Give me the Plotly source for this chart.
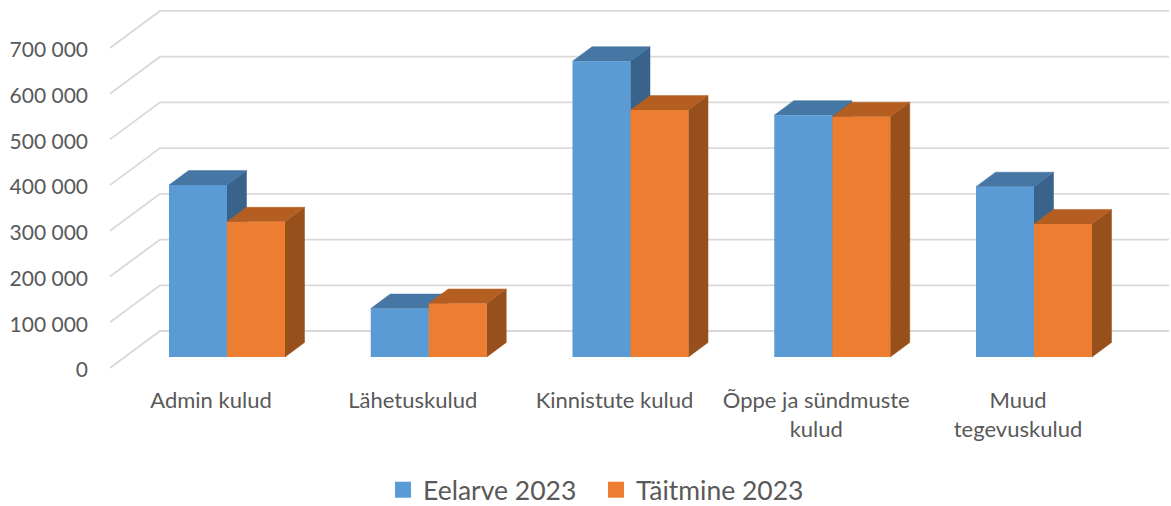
import plotly.graph_objects as go

categories = ["Admin kulud", "Lähetuskulud", "Kinnistute kulud", "Õppe ja sündmuste<br>kulud", "Muud<br>tegevuskulud"]
eelarve = [376000, 106000, 647000, 529000, 372500]
taitmine = [295700, 117000, 540000, 525600, 291000]
ticks = [0, 100000, 200000, 300000, 400000, 500000, 600000, 700000]
tick_labels = ["0", "100 000", "200 000", "300 000", "400 000", "500 000", "600 000", "700 000"]

W, H = 1171, 506
PX_X = 201.75           # pixels per category
PX_Y = 45.72 / 100000   # pixels per unit
X0, Y0 = 227.0, 357.0   # pixel of category 0 / value 0 on the bar front plane
L, B = 89.0, 385.0      # plot-area left / bottom pixel
FONT = "Lato"
TXT = "#595959"
GRID = "#D9D9D9"

def dx(px):
    return px / PX_X

def dy(px):
    return px / PX_Y

bar_w = dx(58)
depth_x, depth_y = dx(19.5), dy(14.5)
wall_x, wall_y = dx(160 - X0), dy(Y0 - 331)
floor_x, floor_y = dx(110 - X0), dy(Y0 - 368)
right_x = dx(1169 - X0)
label_shift_y = dy(Y0 - 370)
label_shift_x = dx(-16)

xr = [dx(L - X0), dx(W - X0)]
yr = [dy(Y0 - B), dy(Y0)]
dom_x = [L / W, 1]
dom_y = [(H - B) / H, 1]


def faces(values, off):
    sx, sy, tx, ty = [], [], [], []
    for i, v in enumerate(values):
        a = i + off
        b = a + bar_w
        sx += [b, b + depth_x, b + depth_x, b, b, None]
        sy += [0, depth_y, v + depth_y, v, 0, None]
        tx += [a, a + depth_x, b + depth_x, b, a, None]
        ty += [v, v + depth_y, v + depth_y, v, v, None]
    return sx, sy, tx, ty


gx, gy = [], []
for t in ticks:
    gx += [floor_x, wall_x, right_x, None]
    gy += [t + floor_y, t + wall_y, t + wall_y, None]

fig = go.Figure()
fig.add_trace(go.Scatter(x=gx, y=gy, mode="lines", line=dict(color=GRID, width=1.8),
                         showlegend=False, hoverinfo="skip"))


def poly(x, y, color):
    fig.add_trace(go.Scatter(x=x, y=y, mode="lines", fill="toself", fillcolor=color,
                             line=dict(color=color, width=0.5), showlegend=False, hoverinfo="skip"))


sx, sy, tx, ty = faces(eelarve, -bar_w)
poly(sx, sy, "#39638A")
poly(tx, ty, "#4676A3")
sx, sy, tx, ty = faces(taitmine, 0)
poly(sx, sy, "#97501B")
poly(tx, ty, "#B45F21")

idx = list(range(len(categories)))
fig.add_trace(go.Bar(x=idx, y=eelarve, width=bar_w, offset=-bar_w, marker=dict(color="#5B9BD5", line_width=0),
                     xaxis="x2", yaxis="y2", showlegend=False))
fig.add_trace(go.Bar(x=idx, y=taitmine, width=bar_w, offset=0, marker=dict(color="#ED7D31", line_width=0),
                     xaxis="x2", yaxis="y2", showlegend=False))

for name, color in (("Eelarve 2023", "#5B9BD5"), ("Täitmine 2023", "#ED7D31")):
    fig.add_trace(go.Scatter(x=[None], y=[None], mode="markers", name=name,
                             marker=dict(symbol="square", size=16, color=color)))

fig.update_layout(
    width=W, height=H, autosize=False,
    margin=dict(l=0, r=0, t=0, b=0, autoexpand=False),
    paper_bgcolor="white", plot_bgcolor="rgba(0,0,0,0)",
    barmode="overlay",
    font=dict(family=FONT, color=TXT, size=20),
    xaxis=dict(domain=dom_x, range=xr, showgrid=False, zeroline=False, showline=False,
               tickmode="array", tickvals=[i + label_shift_x for i in idx], ticktext=categories,
               ticks="", tickangle=0, tickfont=dict(family=FONT, size=22, color=TXT)),
    yaxis=dict(domain=dom_y, range=yr, showgrid=False, zeroline=False, showline=False,
               tickmode="array", tickvals=[t + label_shift_y for t in ticks], ticktext=tick_labels,
               ticks="", tickfont=dict(family=FONT, size=21, color=TXT)),
    xaxis2=dict(domain=dom_x, range=xr, overlaying="x", visible=False),
    yaxis2=dict(domain=dom_y, range=yr, overlaying="y", visible=False),
    legend=dict(orientation="h", x=383 / W, xanchor="left", y=16 / H, yanchor="middle",
                font=dict(family=FONT, size=26.5, color=TXT), bgcolor="rgba(0,0,0,0)",
                itemwidth=30, entrywidth=168, entrywidthmode="pixels", tracegroupgap=0),
    showlegend=True,
)
fig.write_html("out.html", config=dict(displayModeBar=False),
               post_script="document.body.style.margin='0';")
